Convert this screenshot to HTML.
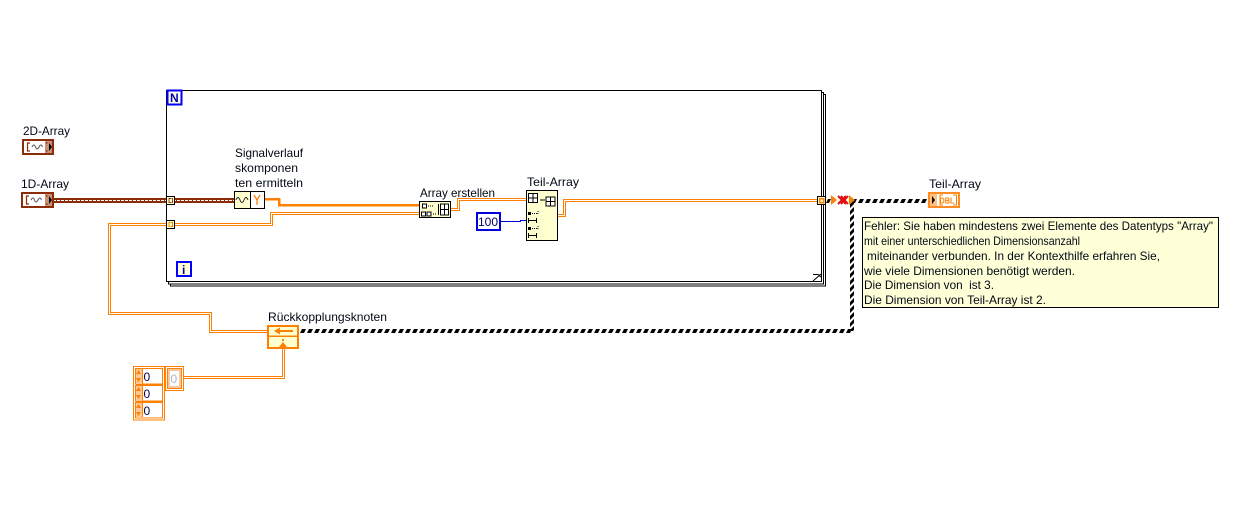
<!DOCTYPE html>
<html><head><meta charset="utf-8"><style>
html,body{margin:0;padding:0;background:#fff;width:1258px;height:510px;overflow:hidden}
svg{display:block}
text{font-family:"Liberation Sans",sans-serif;font-size:12px;fill:#000814}
.o{fill:none;stroke:#ff8000;stroke-width:3}
.w{fill:none;stroke:#fff;stroke-width:1}
.c{shape-rendering:crispEdges}
</style></head><body>
<svg width="1258" height="510" viewBox="0 0 1258 510" xmlns="http://www.w3.org/2000/svg">
<defs>
<pattern id="h1" patternUnits="userSpaceOnUse" x="851" y="199" width="7" height="4"><polygon points="0,4 2,0 6,0 4,4" fill="#000"/></pattern>
<pattern id="h2" patternUnits="userSpaceOnUse" x="300" y="329" width="7" height="4"><polygon points="0,4 2,0 6,0 4,4" fill="#000"/></pattern>
<pattern id="v" patternUnits="userSpaceOnUse" x="850" y="200" width="4" height="7"><polygon points="0,4 4,0 4,4 0,8" fill="#000"/><polygon points="0,-3 4,-7 4,-3 0,1" fill="#000"/></pattern>
</defs>

<!-- loop frames -->
<g fill="#fff" stroke="#000" stroke-width="1" class="c">
<rect x="170.500" y="94.500" width="655" height="191.500"/>
<rect x="168.500" y="92.500" width="655" height="191.500"/>
<rect x="166.500" y="90.500" width="655" height="191"/>
</g>
<path d="M813 281 L821 274 M813 274.500 H818 L821 277" stroke="#000" fill="none" stroke-width="1"/>
<rect x="167.500" y="90.500" width="14" height="14" fill="#ffffe0" stroke="#0000ff" stroke-width="2" class="c"/>
<text x="170" y="102" style="font-weight:bold;font-size:12px;fill:#0000c0">N</text>
<rect x="177" y="262" width="14" height="14" fill="#ffffd0" stroke="#0000ff" stroke-width="2" class="c"/>
<text x="182" y="274" style="font-weight:bold;font-size:12px;fill:#0000c0">i</text>

<!-- striped wire -->
<g class="c">
<rect x="53" y="198" width="181" height="5" fill="#8c2c0a"/>
<line x1="53" x2="234" y1="200.500" y2="200.500" stroke="#fff" stroke-width="1" stroke-dasharray="3 1"/>
</g>

<!-- orange wires -->
<g class="c">
<path class="o" d="M167 224.500 H109.500 V313.500 H210.500 V331.500 H268"/>
<path class="w" d="M167 224.500 H109.500 V313.500 H210.500 V331.500 H268"/>
<path class="o" d="M174 224.500 H271.500 V213.500 H420"/>
<path class="w" d="M174 224.500 H271.500 V213.500 H420"/>
<path fill="none" stroke="#ff8000" stroke-width="2.500" d="M265 199 H279 V205 H420"/>
<path class="o" d="M451 209.500 H458.500 V199.500 H527"/>
<path class="w" d="M451 209.500 H458.500 V199.500 H527"/>
<path class="o" d="M558 215.500 H564.500 V200.500 H818"/>
<path class="w" d="M558 215.500 H564.500 V200.500 H818"/>
<path class="o" d="M184 377.500 H283.500 V345"/>
<path class="w" d="M184 377.500 H283.500 V345"/>
<path d="M501 221.500 H520.500 V220.500 H526" stroke="#0000e0" stroke-width="1" fill="none"/>
</g>

<!-- broken wire -->
<rect x="851" y="199" width="78" height="4" fill="url(#h1)"/>
<rect x="850" y="200" width="4" height="131" fill="url(#v)"/>
<rect x="300" y="329" width="553" height="4" fill="url(#h2)"/>
<polygon points="826,203 828,199 831,199 829,203" fill="#000"/>

<!-- arrows and X -->
<polygon points="831,195 837,200 831,205" fill="#ff8000"/>
<polygon points="849,195 855,200 849,205" fill="#ff8000"/>
<path d="M838 196 L846 204 M846 196 L838 204 M841 196 L848 204 M848 196 L841 204" stroke="#e01010" stroke-width="2" fill="none"/>

<!-- controls -->
<g class="c">
<rect x="23" y="140" width="30" height="14" fill="#fff" stroke="#8c2c0a" stroke-width="2"/>
<rect x="45" y="141" width="7" height="12" fill="#c89078"/>
<rect x="22" y="193" width="31" height="14" fill="#fff" stroke="#8c2c0a" stroke-width="2"/>
<rect x="45" y="194" width="7" height="12" fill="#c89078"/>
</g>
<g fill="none" stroke="#8c2c0a" stroke-width="1.200">
<path d="M30 143 H27.500 V151 H30 M46 143 H47.500 M46 151 H47.500"/>
<path d="M29 196 H26.500 V204 H29 M46 196 H47.500 M46 204 H47.500"/>
</g>
<path d="M32 147 q2 -4 3.500 0 t3.500 0 t3.500 0" fill="none" stroke="#555" stroke-width="1"/>
<path d="M31 200 q2 -4 3.500 0 t3.500 0 t3.500 0" fill="none" stroke="#555" stroke-width="1"/>
<polygon points="49,143 52,147 49,151" fill="#000"/>
<polygon points="49,196 52,200 49,204" fill="#000"/>

<!-- tunnels -->
<g class="c">
<rect x="166.500" y="196.500" width="8" height="8" fill="#ffffd0" stroke="#000"/>
<path d="M171 198.500 H169 V202.500 H171" fill="none" stroke="#a04010"/>
<path d="M171.500 198.500 H172.500 V202.500 H171.500" fill="none" stroke="#a04010"/>
<rect x="166.500" y="220.500" width="8" height="8" fill="#ffffd0" stroke="#000"/>
<path d="M170.500 222.500 H169 V226.500 H170.500 M171 222.500 H172.500 V226.500 H171" fill="none" stroke="#ff8000"/>
<rect x="817.500" y="196.500" width="8" height="8" fill="#ffffd0" stroke="#000"/>
<rect x="819.500" y="198.500" width="4" height="4" fill="none" stroke="#ff8000" stroke-width="1.500"/>
</g>

<!-- signal node -->
<g class="c">
<rect x="234.500" y="191.500" width="30" height="17" fill="#fff" stroke="#000"/>
<rect x="235" y="192" width="16" height="16" fill="#ffffd0"/>
<line x1="250.500" x2="250.500" y1="192" y2="208" stroke="#000"/>
</g>
<path d="M236 200 q2 -5 4 0 t4 0 t4 0" fill="none" stroke="#222" stroke-width="1"/>
<path d="M254 195 L257 200 L260 195 M257 200 V205" fill="none" stroke="#ff8000" stroke-width="1.300"/>

<!-- array build -->
<g class="c">
<rect x="419.500" y="201.500" width="31" height="16" fill="#ffffd0" stroke="#000"/>
<rect x="422.500" y="204" width="4" height="4" fill="#fff" stroke="#000"/>
<rect x="421.500" y="212" width="4" height="4" fill="#fff" stroke="#000"/>
<rect x="427" y="212" width="4" height="4" fill="#fff" stroke="#000"/>
<path d="M428 206 H434 M433 214 H437" stroke="#000" stroke-dasharray="1 1"/>
<rect x="440.500" y="204" width="8" height="11" fill="#fff" stroke="#000"/>
<path d="M444.500 204 V215 M440 209.500 H449" stroke="#000"/>
<rect x="438" y="204" width="1" height="11" fill="#000"/>
</g>

<!-- subarray -->
<g class="c">
<rect x="526.500" y="190.500" width="31" height="50" fill="#ffffd0" stroke="#000"/>
<rect x="528.500" y="193.500" width="9" height="9" fill="#fff" stroke="#000"/>
<path d="M533 193 V203 M528 198 H538" stroke="#000"/>
<rect x="546" y="197" width="9" height="9" fill="#fff" stroke="#000"/>
<path d="M550.500 197 V206 M546 201.500 H555" stroke="#000"/>
<path d="M540 200 H545" stroke="#000"/>
<rect x="528" y="212" width="3" height="3" fill="#000"/>
<path d="M532 213.500 H537 M538 211 V215" stroke="#000" stroke-dasharray="1 1"/>
<path d="M528.500 218 V223 M536.500 218 V223 M529 220.500 H536" stroke="#000"/>
<rect x="528" y="227" width="3" height="3" fill="#000"/>
<path d="M532 228.500 H537 M538 226 V230" stroke="#000" stroke-dasharray="1 1"/>
<path d="M528.500 233 V238 M536.500 233 V238 M529 235.500 H536" stroke="#000"/>
<rect x="477" y="213" width="23" height="17" fill="#fff" stroke="#0000e0" stroke-width="2"/>
</g>
<text x="478" y="226" style="fill:#000060">100</text>

<!-- indicator -->
<g class="c">
<rect x="929" y="193" width="30" height="14" fill="#fff" stroke="#ff8c20" stroke-width="2"/>
<rect x="930" y="194" width="7" height="12" fill="#ffc080"/>
<path d="M943 195 H940 V205 H943 M953 195 H956.500 V205 H953" fill="none" stroke="#ff8000" stroke-width="1.300"/>
</g>
<polygon points="932,196 935,200 932,204" fill="#000"/>
<text x="939.500" y="203.500" style="font-size:8px;font-weight:bold;fill:#ff8000" textLength="15" lengthAdjust="spacingAndGlyphs">DBL</text>

<!-- feedback node -->
<g class="c">
<rect x="268" y="326" width="30" height="22" fill="#ffffd0" stroke="#ff8000" stroke-width="2"/>
<rect x="268" y="335.500" width="30" height="1.500" fill="#ff8000"/>
<rect x="275" y="330" width="18" height="2" fill="#ff8000"/>
<rect x="282" y="339" width="2" height="2" fill="#ff8000"/>
</g>
<polygon points="274,331 280,327.500 280,334.500" fill="#ff8000"/>
<polygon points="283,342 279,347 287,347" fill="#ff8000"/>

<!-- array constant -->
<g class="c" fill="none" stroke="#ff8000">
<rect x="133.500" y="366.500" width="31" height="53.500" fill="#fff"/>
<rect x="135.500" y="368.500" width="27" height="15.500"/>
<rect x="135.500" y="385.500" width="27" height="15.500"/>
<rect x="135.500" y="402.500" width="27" height="15.500"/>
<rect x="136" y="369" width="6" height="48" fill="#ffc890" stroke="none"/>
<rect x="142" y="369" width="1" height="48" fill="#ff8000" stroke="none"/>
<rect x="136" y="384" width="27" height="2" fill="#ff8000" stroke="none"/>
<rect x="136" y="401" width="27" height="2" fill="#ff8000" stroke="none"/>
<rect x="165.500" y="366.500" width="18" height="24" fill="#fff"/>
<rect x="167.500" y="368.500" width="14" height="20" fill="#f8c8a0"/>
<rect x="170" y="371" width="9" height="15" fill="#fff" stroke="none"/>
</g>
<g fill="#ff8000">
<polygon points="136,374 141,374 138.500,370"/><polygon points="136,378 141,378 138.500,382"/>
<polygon points="136,391 141,391 138.500,387"/><polygon points="136,395 141,395 138.500,399"/>
<polygon points="136,408 141,408 138.500,404"/><polygon points="136,412 141,412 138.500,416"/>
</g>
<text x="143.500" y="381" style="fill:#000050">0</text>
<text x="143.500" y="398" style="fill:#000050">0</text>
<text x="143.500" y="415" style="fill:#000050">0</text>
<text x="170.500" y="383" style="fill:#a8b4c8">0</text>

<!-- labels -->
<text x="23" y="135" textLength="47" lengthAdjust="spacingAndGlyphs">2D-Array</text>
<text x="21" y="188" textLength="48" lengthAdjust="spacingAndGlyphs">1D-Array</text>
<text x="235" y="157" textLength="68" lengthAdjust="spacingAndGlyphs">Signalverlauf</text>
<text x="235" y="172" textLength="63" lengthAdjust="spacingAndGlyphs">skomponen</text>
<text x="235" y="187" textLength="68" lengthAdjust="spacingAndGlyphs">ten ermitteln</text>
<text x="420" y="197" textLength="75" lengthAdjust="spacingAndGlyphs">Array erstellen</text>
<text x="527" y="186" textLength="52" lengthAdjust="spacingAndGlyphs">Teil-Array</text>
<text x="929" y="188" textLength="52" lengthAdjust="spacingAndGlyphs">Teil-Array</text>
<text x="268" y="321" textLength="119" lengthAdjust="spacingAndGlyphs">Rückkopplungsknoten</text>

<!-- error box -->
<rect x="862.500" y="217.500" width="356" height="90" fill="#ffffd8" stroke="#000" class="c"/>
<text x="864" y="230" textLength="349" lengthAdjust="spacingAndGlyphs">Fehler: Sie haben mindestens zwei Elemente des Datentyps "Array"</text>
<text x="864" y="245" textLength="216" lengthAdjust="spacingAndGlyphs">mit einer unterschiedlichen Dimensionsanzahl</text>
<text x="867" y="260" textLength="293" lengthAdjust="spacingAndGlyphs">miteinander verbunden. In der Kontexthilfe erfahren Sie,</text>
<text x="864" y="275" textLength="211" lengthAdjust="spacingAndGlyphs">wie viele Dimensionen benötigt werden.</text>
<text x="864" y="289" textLength="130" lengthAdjust="spacingAndGlyphs" xml:space="preserve">Die Dimension von  ist 3.</text>
<text x="864" y="304" textLength="182" lengthAdjust="spacingAndGlyphs">Die Dimension von Teil-Array ist 2.</text>
</svg>
</body></html>
